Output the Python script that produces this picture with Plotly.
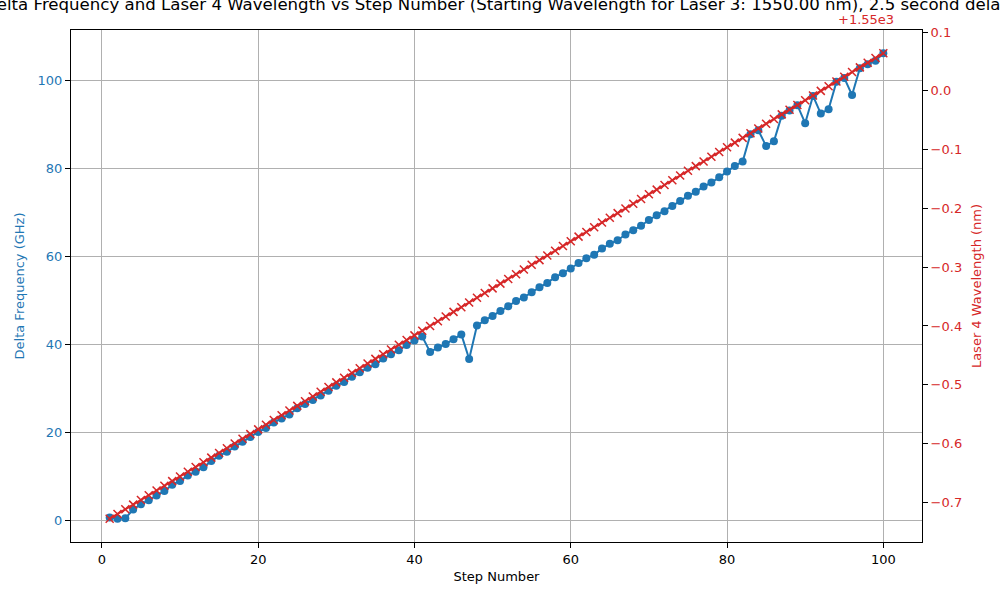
import plotly.graph_objects as go

# step numbers 1..100
steps = list(range(1, 101))

# delta frequency (GHz)
delta_freq = [
    0.6, 0.3, 0.4, 2.4, 3.6, 4.5, 5.6, 6.6, 8.0, 8.9,
    10.1, 11.0, 12.0, 13.4, 14.6, 15.5, 16.7, 17.8, 18.9, 20.0,
    20.9, 22.2, 23.1, 24.0, 25.4, 26.4, 27.3, 28.3, 29.4, 30.5,
    31.4, 32.6, 33.6, 34.6, 35.4, 36.7, 37.7, 38.6, 39.8, 40.8,
    41.7, 38.2, 39.2, 40.0, 41.1, 42.2, 36.6, 44.2, 45.4, 46.4,
    47.5, 48.6, 49.8, 50.6, 51.8, 52.9, 53.9, 55.2, 56.1, 57.2,
    58.4, 59.5, 60.3, 61.7, 62.8, 63.6, 64.9, 65.9, 66.9, 68.2,
    69.3, 70.2, 71.4, 72.5, 73.7, 74.6, 75.8, 76.7, 77.9, 79.2,
    80.5, 81.5, 87.7, 88.6, 85.0, 86.1, 91.9, 93.1, 94.3, 90.2,
    96.4, 92.4, 93.4, 99.6, 100.5, 96.6, 102.7, 103.6, 104.4, 106.1,
]

# laser 4 wavelength (nm)
wavelength = [
    1549.272, 1549.280, 1549.288, 1549.296, 1549.304, 1549.312, 1549.320, 1549.328, 1549.336, 1549.344,
    1549.352, 1549.360, 1549.368, 1549.376, 1549.384, 1549.392, 1549.400, 1549.408, 1549.416, 1549.424,
    1549.432, 1549.440, 1549.448, 1549.456, 1549.464, 1549.472, 1549.480, 1549.488, 1549.496, 1549.504,
    1549.512, 1549.520, 1549.528, 1549.536, 1549.544, 1549.552, 1549.560, 1549.568, 1549.576, 1549.584,
    1549.592, 1549.600, 1549.608, 1549.616, 1549.624, 1549.632, 1549.640, 1549.648, 1549.656, 1549.664,
    1549.672, 1549.680, 1549.688, 1549.696, 1549.704, 1549.712, 1549.720, 1549.728, 1549.736, 1549.744,
    1549.752, 1549.760, 1549.768, 1549.776, 1549.784, 1549.792, 1549.800, 1549.808, 1549.816, 1549.824,
    1549.832, 1549.840, 1549.848, 1549.856, 1549.864, 1549.872, 1549.880, 1549.888, 1549.896, 1549.904,
    1549.912, 1549.920, 1549.928, 1549.936, 1549.944, 1549.952, 1549.960, 1549.968, 1549.976, 1549.984,
    1549.992, 1550.000, 1550.008, 1550.016, 1550.024, 1550.032, 1550.040, 1550.048, 1550.056, 1550.064,
]

wl_offset = 1550.0  # shown as "+1.55e3" like matplotlib's offset text

blue = '#1f77b4'
red = '#d62728'
grid = '#b0b0b0'
font = 'DejaVu Sans'

fig = go.Figure()

fig.add_trace(go.Scatter(
    x=steps, y=delta_freq, mode='lines+markers',
    line=dict(color=blue, width=2),
    marker=dict(color=blue, size=8, symbol='circle'),
    yaxis='y', showlegend=False
))

fig.add_trace(go.Scatter(
    x=steps, y=[w - wl_offset for w in wavelength], mode='lines+markers',
    line=dict(color=red, width=2),
    marker=dict(symbol='x-thin', size=8, color=red, line=dict(color=red, width=1.5)),
    yaxis='y2', showlegend=False
))

fig.update_layout(
    width=1000, height=600,
    margin=dict(l=71, r=78, t=30, b=58, autoexpand=False),
    plot_bgcolor='white', paper_bgcolor='white',
    font=dict(family=font, size=13, color='black'),
    xaxis=dict(
        range=[-3.95, 104.95], tickvals=[0, 20, 40, 60, 80, 100],
        showgrid=True, gridcolor=grid, gridwidth=1, zeroline=False,
        showline=True, linecolor='black', linewidth=1, mirror=True,
        ticks='outside', ticklen=5, tickcolor='black', automargin=False,
        title=dict(text='Step Number', font=dict(size=13), standoff=6),
    ),
    yaxis=dict(
        range=[-4.99, 111.39], tickvals=[0, 20, 40, 60, 80, 100],
        showgrid=True, gridcolor=grid, gridwidth=1, zeroline=False,
        showline=True, linecolor='black', linewidth=1,
        ticks='outside', ticklen=5, tickcolor='black', automargin=False,
        tickfont=dict(color=blue),
        title=dict(text='Delta Frequency (GHz)', font=dict(color=blue, size=13), standoff=10),
    ),
    yaxis2=dict(
        overlaying='y', side='right',
        range=[-0.7676, 0.1036],
        tickvals=[-0.7, -0.6, -0.5, -0.4, -0.3, -0.2, -0.1, 0.0, 0.1],
        tickformat='.1f',
        showgrid=False, zeroline=False,
        showline=True, linecolor='black', linewidth=1,
        ticks='outside', ticklen=5, tickcolor='black', automargin=False,
        tickfont=dict(color=red),
        title=dict(text='Laser 4 Wavelength (nm)', font=dict(color=red, size=13), standoff=10),
    ),
)

# title sits above the offset text, wider than the figure (clipped like the original)
fig.add_annotation(
    text='Delta Frequency and Laser 4 Wavelength vs Step Number '
         '(Starting Wavelength for Laser 3: 1550.00 nm), 2.5 second delay',
    xref='paper', yref='paper', x=0.5, y=1.0,
    xanchor='center', yanchor='bottom', yshift=14, showarrow=False,
    font=dict(family=font, size=16.6, color='black'),
)

# offset text for the right axis, right-aligned to the axes edge
fig.add_annotation(
    text='+1.55e3', xref='paper', yref='paper', x=1.0, y=1.0,
    xanchor='right', yanchor='bottom', xshift=-26, yshift=1, showarrow=False,
    font=dict(family=font, size=13, color=red),
)

# drop the browser's default 8px body margin so the figure fills the window
fig.write_html('out.html', config={'displayModeBar': False},
               post_script="document.body.style.margin='0';")
